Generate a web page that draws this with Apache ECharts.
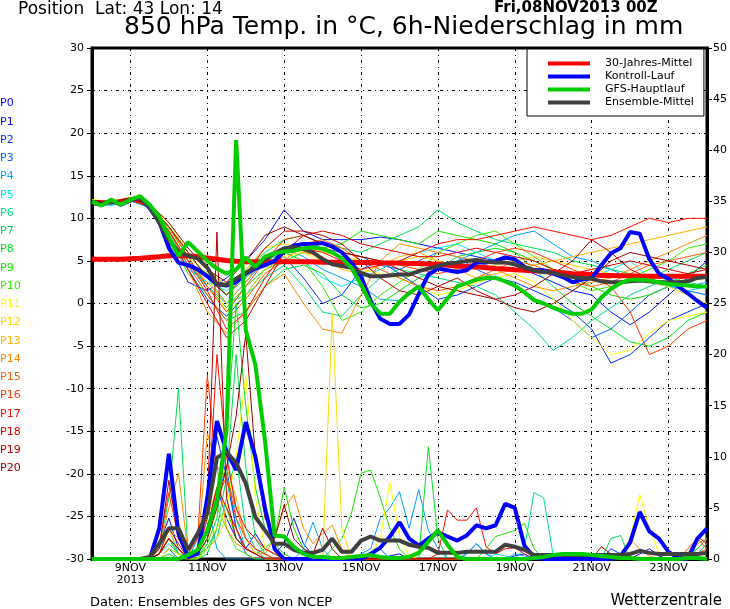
<!DOCTYPE html>
<html>
<head>
<meta charset="utf-8">
<script src="https://cdn.jsdelivr.net/npm/echarts/dist/echarts.min.js"></script>
<style>
  html, body { margin: 0; padding: 0; background: #fff; }
  #chart-container { width: 730px; height: 609px; }
</style>
</head>
<body>
<div id="chart-container"></div>
<script>
// 6-hourly steps from 08NOV2013 00Z to 24NOV2013 00Z (hours)
var steps = [];
for (var h = 0; h <= 384; h += 6) steps.push(h);

var xTickLabels = ['9NOV\n2013', '11NOV', '13NOV', '15NOV', '17NOV', '19NOV', '21NOV', '23NOV'];

var memberNames = ['P0', 'P1', 'P2', 'P3', 'P4', 'P5', 'P6', 'P7', 'P8', 'P9', 'P10',
  'P11', 'P12', 'P13', 'P14', 'P15', 'P16', 'P17', 'P18', 'P19', 'P20'];
var memberColors = ['#0000ff', '#0010ff', '#0034ff', '#0064ff', '#00a0ff', '#00e0ff', '#00e080',
  '#00e050', '#00e020', '#18e000', '#38f000', '#ffff00', '#ffd700', '#ffb000', '#ff8c00',
  '#ff6000', '#ff3c00', '#ff1000', '#e00000', '#b80000', '#a00000'];

// thick lines, 6-hourly (°C)
var climTemp = [5.2, 5.2, 5.2, 5.2, 5.25, 5.3, 5.4, 5.5,
  5.6, 5.65, 5.6, 5.5, 5.35, 5.2, 5.05, 4.95,
  4.9, 4.9, 4.9, 4.9, 4.9, 4.9, 4.9, 4.9,
  4.85, 4.85, 4.8, 4.8, 4.8, 4.8, 4.75, 4.75,
  4.75, 4.7, 4.7, 4.65, 4.6, 4.5, 4.4, 4.35,
  4.3, 4.2, 4.1, 4.05, 3.95, 3.9, 3.85, 3.8,
  3.7, 3.6, 3.5, 3.45, 3.4, 3.3, 3.3, 3.25,
  3.25, 3.2, 3.2, 3.2, 3.2, 3.2, 3.2, 3.2, 3.2];
var ctrlTemp = [11.9, 11.6, 12.1, 11.6, 12.1, 12.5, 11.2, 9.6,
  6.5, 4.8, 4.5, 4.0, 3.2, 2.3, 2.1, 2.5,
  3.5, 4.1, 4.5, 5.0, 6.2, 6.8, 7.0, 7.0,
  7.1, 6.7, 6.0, 4.8, 3.2, 0.3, -1.8, -2.4,
  -2.4, -1.3, 1.1, 3.4, 4.1, 3.9, 3.7, 3.9,
  4.8, 4.8, 5.0, 5.4, 5.2, 4.3, 3.9, 3.9,
  3.5, 3.1, 2.5, 2.8, 3.0, 4.5, 5.9, 6.5,
  8.4, 8.2, 5.2, 3.5, 2.9, 2.0, 1.2, 0.3, -0.5];
var gfsTemp = [12.0, 11.5, 12.2, 11.6, 12.2, 12.6, 11.6, 10.2,
  7.8, 5.6, 7.2, 6.1, 5.0, 4.1, 3.5, 4.0,
  5.4, 4.3, 5.5, 5.9, 6.1, 6.2, 6.5, 6.6,
  6.4, 6.0, 5.3, 4.2, 2.2, 0.0, -1.2, -1.2,
  0.2, 1.2, 2.0, 0.5, -0.8, 0.6, 2.0, 2.4,
  2.8, 3.0, 3.0, 2.6, 2.1, 1.3, 0.4, 0.0,
  -0.5, -0.9, -1.2, -1.2, -0.7, 0.7, 1.7, 2.4,
  2.8, 2.8, 2.7, 2.5, 2.3, 2.2, 2.1, 2.0, 2.0];
var meanTemp = [11.8, 11.6, 12.0, 11.7, 12.1, 12.5, 11.3, 9.5,
  7.4, 6.1, 5.6, 5.3, 4.2, 2.3, 2.2, 2.9,
  3.6, 4.3, 5.2, 5.9, 6.5, 6.6, 6.4, 6.0,
  5.2, 4.6, 4.4, 4.2, 3.6, 3.2, 3.2, 3.3,
  3.4, 3.4, 3.8, 4.1, 4.4, 4.7, 4.8, 5.0,
  5.1, 4.9, 4.8, 4.8, 4.6, 4.2, 3.9, 3.7,
  3.6, 3.3, 3.1, 3.0, 2.9, 2.6, 2.5, 2.5,
  2.6, 2.7, 2.6, 2.5, 2.5, 2.5, 2.6, 3.0, 3.1];

// thick lines, 6h precipitation (mm)
var ctrlPrcp = [0, 0, 0, 0, 0, 0, 0, 3,
  10.3, 2.5, 0.2, 0.5, 6, 13.5, 10.5, 8.7,
  13.4, 10, 5, 1, 0, 0, 0, 0,
  0, 0, 0, 0, 0, 0.5, 1.1, 2.2,
  3.6, 2.0, 1.3, 2.0, 2.6, 2.2, 1.8, 2.3,
  3.3, 3.0, 3.3, 5.4, 5.0, 1.3, 0.2, 0,
  0, 0, 0, 0, 0, 0, 0, 0.3,
  1.6, 4.6, 2.7, 2.0, 0.7, 0.1, 0, 2.0, 3.0];
var gfsPrcp = [0, 0, 0, 0, 0, 0, 0, 0,
  0, 0, 0.4, 0.9, 2.8, 5.8, 12.6, 41,
  22.4, 19, 11.6, 2.3, 2.2, 1.2, 0.5, 0.2,
  0.2, 0.1, 0.1, 0.2, 0.3, 0.4, 0.2, 0.1,
  0.1, 0.2, 0.6, 1.7, 2.8, 1.4, 0.2, 0,
  0, 0, 0, 0, 0, 0, 0.1, 0.2,
  0.4, 0.5, 0.5, 0.5, 0.4, 0.3, 0.2, 0.1,
  0.1, 0, 0, 0, 0, 0, 0.1, 0.1, 0];
var meanPrcp = [0, 0, 0, 0, 0, 0, 0.2, 1.5,
  3, 3, 0.9, 2.5, 4.5, 9.9, 10.5, 9.4,
  7.4, 4.1, 2.8, 1.5, 1.5, 0.9, 0.6, 0.6,
  0.9, 2.0, 0.7, 0.7, 1.8, 2.2, 1.8, 1.8,
  1.8, 1.4, 1.2, 1.1, 0.6, 0.6, 0.6, 0.7,
  0.7, 0.7, 0.7, 1.4, 1.2, 0.9, 0.4, 0.4,
  0.4, 0.4, 0.4, 0.4, 0.4, 0.4, 0.4, 0.4,
  0.5, 0.8, 0.6, 0.5, 0.5, 0.5, 0.5, 0.5, 0.6];

// members P1..P20, 12-hourly temperature (°C)
var memberTemp = [
  [11.9, 11.8, 12.3, 11.3, 7.0, 2.5, 1.5, 3.0, 5.0, 7.5, 11.0, 8.5, 7.5, 7.5, 7.5, 7.8, 7.5, 7.0, 6.5, 6.0, 5.5, 5.0, 4.5, 3.5, 2.5, 1.5, 1.0, -1.0, -2.5, -1.0, 1.0, 3.0, 5.0],
  [12.0, 11.7, 12.2, 11.4, 8.0, 4.0, 0.5, -1.5, 1.0, 4.0, 5.5, 3.0, 0.0, 1.0, 4.0, 5.0, 3.5, 2.0, 0.5, 1.0, 2.0, 3.0, 2.5, 1.5, 0.5, -1.0, -3.0, -7.0, -6.0, -4.0, -2.0, -1.0, 0.0],
  [12.1, 11.9, 12.4, 11.6, 8.5, 5.0, 3.0, 1.0, 3.0, 5.0, 6.0, 7.0, 6.5, 6.0, 5.5, 4.5, 4.0, 5.0, 6.0, 5.5, 4.0, 3.0, 2.0, 0.5, -0.5, -2.0, -4.0, -3.0, -1.0, 1.0, 2.0, 1.5, 1.0],
  [11.8, 11.6, 12.1, 11.2, 8.0, 4.5, 2.0, 0.0, 2.5, 5.0, 6.5, 5.5, 4.0, 3.0, 2.0, 0.5, 0.3, 2.0, 4.0, 5.0, 6.0, 7.0, 8.0, 8.5, 7.0, 5.5, 5.0, 4.0, 3.0, 2.5, 2.0, 2.0, 2.5],
  [11.7, 11.5, 12.0, 11.4, 8.5, 4.0, 2.5, 1.5, 3.5, 5.5, 6.0, 5.0, 3.0, 2.0, 3.0, 4.0, 5.0, 6.0, 6.5, 7.0, 6.0, 5.0, 4.5, 4.0, 3.5, 3.0, 3.0, 4.0, 5.0, 3.0, 2.0, 1.5, 2.0],
  [12.0, 11.8, 12.3, 11.5, 9.0, 6.0, 3.0, 0.0, 1.0, 3.0, 4.5, 2.0, -1.0, -1.5, 1.0, 3.0, 4.0, 3.5, 3.0, 2.5, 2.0, 1.0, -1.0, -3.0, -5.5, -4.0, -2.0, -0.5, 1.0, 2.0, 3.0, 2.5, 2.0],
  [12.0, 11.9, 12.2, 11.6, 9.0, 6.0, 4.0, 2.0, 4.0, 6.0, 7.5, 8.0, 7.0, 6.5, 6.0, 7.0, 8.0, 9.0, 11.0, 9.5, 8.5, 7.5, 7.0, 6.5, 6.0, 5.0, 4.5, 4.0, 3.5, 3.0, 4.0, 5.0, 6.0],
  [12.1, 12.0, 12.4, 11.5, 8.0, 3.5, 1.0, -2.0, -1.0, 2.0, 4.0, 4.5, 3.5, 1.0, -0.5, 0.0, 1.5, 3.0, 4.0, 5.5, 6.0, 6.5, 6.0, 4.0, 2.0, 0.0, -1.5, -3.0, -4.5, -5.0, -4.0, -2.0, -1.0],
  [11.9, 11.7, 12.2, 11.3, 8.5, 5.0, 2.0, -0.5, 2.0, 4.0, 5.0, 6.0, 6.5, 7.0, 8.5, 8.0, 7.5, 7.0, 8.5, 8.0, 7.5, 7.0, 6.0, 5.0, 4.0, 3.0, 2.0, 1.0, 0.5, 1.0, 2.0, 3.5, 4.5],
  [12.0, 11.8, 12.3, 11.5, 8.8, 5.5, 3.5, 1.0, 3.0, 5.0, 6.0, 5.0, 2.0, -2.0, -1.0, 1.0, 2.5, 4.0, 6.0, 7.0, 8.0, 8.5, 7.0, 5.5, 4.0, 2.5, 1.5, 2.0, 3.0, 4.0, 5.0, 6.5, 7.0],
  [12.2, 12.0, 12.5, 11.8, 9.0, 5.5, 3.5, -1.0, 1.0, 4.0, 5.5, 6.0, 5.0, 4.5, 4.0, 3.5, 3.0, 2.0, 1.0, 1.5, 2.5, 3.0, 3.5, 2.5, 0.5, -2.0, -4.0, -6.0, -5.5, -3.5, -2.0, -1.5, -1.0],
  [12.1, 11.9, 12.4, 11.6, 9.5, 6.0, 4.0, 2.0, 4.0, 6.5, 7.0, 6.5, 6.0, 5.5, 5.0, 4.5, 5.0, 5.5, 5.0, 4.5, 4.0, 4.5, 5.0, 5.5, 5.0, 4.5, 4.0, 3.5, 3.0, 2.5, 2.0, 1.0, 0.0],
  [12.0, 11.8, 12.3, 11.4, 8.5, 5.0, 2.5, 0.0, 2.5, 5.5, 6.5, 6.0, 5.5, 4.0, 3.5, 4.5, 5.5, 6.0, 5.0, 4.0, 3.0, 3.5, 4.0, 4.5, 5.0, 5.5, 6.0, 6.5, 7.0, 7.5, 8.0, 8.5, 9.0],
  [11.9, 11.7, 12.2, 11.5, 8.0, 4.0, -1.0, -3.5, -1.0, 2.0, 3.5, 0.0, -3.0, -3.5, 1.0, 5.0, 7.0, 6.5, 6.0, 5.5, 5.0, 4.0, 3.0, 2.0, 1.5, 2.0, 2.5, 3.0, 4.0, 5.0, 6.0, 7.0, 8.0],
  [12.0, 11.9, 12.3, 11.6, 8.5, 4.5, 1.0, -2.0, 0.5, 3.5, 5.0, 7.0, 7.5, 6.5, 5.0, 4.0, 3.0, 2.0, 1.5, 2.0, 3.0, 4.0, 5.0, 4.5, 3.5, 2.5, 2.0, 2.5, 3.5, 4.5, 5.0, 5.5, 6.0],
  [12.1, 12.0, 12.4, 11.7, 9.0, 5.5, 2.0, -1.0, 2.0, 5.0, 7.5, 8.0, 7.0, 6.0, 5.5, 5.0, 4.5, 4.0, 3.5, 4.0, 5.0, 6.0, 6.5, 6.0, 5.0, 4.0, 3.0, 2.0, -1.0, -6.0, -5.0, -3.0, -2.0],
  [12.0, 11.8, 12.2, 11.5, 8.5, 5.0, 1.5, -3.0, -1.0, 3.0, 6.0, 6.5, 6.0, 5.0, 4.0, 4.5, 5.0, 6.0, 7.0, 7.5, 7.5, 8.0, 8.5, 9.0, 8.5, 8.0, 7.5, 8.0, 9.0, 10.0, 9.5, 10.0, 10.0],
  [11.9, 11.7, 12.1, 11.4, 8.0, 4.0, 0.0, -4.0, -2.0, 2.0, 6.0, 8.0, 8.5, 8.0, 7.0, 6.5, 6.0, 5.5, 5.5, 6.0, 6.5, 6.0, 5.5, 5.0, 4.0, 3.5, 4.0, 4.5, 5.0, 4.5, 4.0, 3.5, 3.0],
  [12.0, 11.9, 12.3, 11.6, 9.0, 6.0, 3.0, 1.0, 3.5, 6.5, 8.5, 8.5, 8.0, 7.0, 5.0, 3.0, 1.5, 1.0, 2.0, 3.0, 1.5, 0.5, 1.0, 2.0, 3.5, 5.0, 7.5, 6.0, 4.0, 3.0, 3.0, 3.5, 4.0],
  [12.1, 12.0, 12.4, 11.7, 9.5, 6.5, 4.0, 2.5, 5.0, 8.0, 9.0, 8.0, 7.0, 6.0, 5.5, 5.0, 4.0, 3.0, 2.0, 1.5, 1.0, 0.5, -0.5, -1.0, 0.0, 1.5, 3.0, 5.0, 6.0, 5.5, 5.0, 4.5, 4.0]
];

// members P1..P20, 6h precipitation (mm)
var memberPrcp = [
  [0,0,0,0,0,0,0,1.5, 4,1,0,0.5,3,7,4,2, 1,2.5,1,0.5,1.5,4,1.5,0.3, 0,0,0,0,0,0,0,0.3, 0.5,0,0,0,0,0,0,0, 0,0,0,0,0.3,0.5,0,0, 0,0,0,0,0,0,0,0, 0,0.5,1,0.3,0,0,0,0, 0],
  [0,0,0,0,0,0,0,0.5, 2,0.5,0,1,5,12,8,3, 1,0.5,0,0,0,0,0,0, 0,0,0,0,0,0,0,0, 0,0,0,0,0,0,0,0, 0,0,0,0,0,0,0,0, 0,0,0,0,0,0,1,0.5, 0,0,0,0,0,0,0,0, 0],
  [0,0,0,0,0,0,0,0, 1,0,0,0.5,2,6,9,3, 0.5,0,0,0,0,0,0,0, 0,0,0,0,0,0.5,1,0, 0,0,0,0,0,0,0,0.5, 1.5,0.5,0,0,0,0,0,0, 0,0,0,0,0,0,0,0, 0,0,0,0,0,0,0,0.5, 1.5],
  [0,0,0,0,0,0,0,1, 3,0.5,0,2,5.5,1,0,0, 0,0,0,0,0,0,1,3.6, 1,0,0,0,0.5,1,4,5, 6.6,3,6.8,2.8,1,0,0,0.5, 1.5,0.5,0,0,0.5,0.3,0,0, 0,0,0,0,0,0,0,0, 0,0,0,0,0,0,0.5,1, 2],
  [0,0,0,0,0,0,0,0.5, 2,0.5,0.3,1,3,5,11,4, 1,0.5,0,0,0,0,0,0, 0,0,0,0,0,0,0,0, 0,0,0,0,0,0,0,0, 0,0,0.5,0.3,0,0,0,0, 0,0,0,0,0,0,0,0, 0,0,0,0,0,0,0,0, 0],
  [0,0,0,0,0,0,0,0.5, 1.5,0.5,0,0,1,2,6,10, 3,1,0,0,0,0,0,0, 0,0,0,0,0,0,0,0, 0,0,0,0,0,0,0,0, 0,0,0,0,0,1,6.5,6, 0.3,0,0,0,0,0,0,0, 0,0,0,0,0,0,0,0, 0],
  [0,0,0,0,0,0,0,1, 6,16.7,0.5,0,0.5,3,8,20, 9,2,0.5,0,0,0,0,0, 0,0,0,0,0,0,0,0, 0,0,0,0,0,0,0,0, 0,0,0,0,0,0,0,0, 0,0,0,0,0,0,2,2.3, 0,0,0,0,0,0,0,0.5, 1.5],
  [0,0,0,0,0,0,0,0, 0.5,0,0,0,1.5,4,12,25, 15,7,3,1.5,0.5,0,0,0, 0,0,0,0,0,0,0,0, 0,0,0,11,2,0,0,0, 0,0,0,0,0,0,0,0, 0,0,0,0,0,0,0,0, 0,0,0,0,0,0,0,0, 0],
  [0,0,0,0,0,0,0,0, 1,0.5,0,0.5,1,3,5,2, 1,0.5,1,2,7,3,1,0.5, 0,1,2,4.5,8.4,8.7,6,3, 1,0,0,0,0,0,0,0, 0,1,2.2,2.5,2.8,3.5,1,0, 0,0,0,0,0,0,0,0, 0,0,0,0,0,0,0,0, 0],
  [0,0,0,0,0,0,0,0.5, 2,0.5,0,0,2,5,3,1, 0.5,0,0,0,0,0,0,0, 0,0,0,0,0,0,0,0, 0,0,0,0,0,0,0,0, 0,0,0,0,0,0,0,0, 0,0,0,0,0,0,0,0, 0,0,0,0,0,0,0,1, 2],
  [0,0,0,0,0,0,0,0.5, 2.8,1,0,0.5,2,3,5,10, 18,6,1,0.5,0,0,0,0, 0,0,0,0,0,0.5,2,7.5, 2.2,0.3,0,0,0,0,0,0, 0,0,0,0,0,0,0,0, 0,0,0,0,0,0,0,0.5, 2,6.3,3,0.5,0,0,0,0, 0],
  [0,0,0,0,0,0,0,0, 1,0.5,0,0,1,2,4,3, 1,0.5,0,0,0,0,0,0, 0,24,3,0,0,0,0,0, 0,0,0,0,0,0,0,0, 0,0,0,0,0,0,0,0, 0,0,0,0,0,0,0,0, 0,0,0,0,0,0,0,0, 0],
  [0,0,0,0,0,0,0,0.5, 3,2,0.3,1,4,7,9,6, 2,0.5,0,0,0,0,0,0, 0,0,0,0,0,0,0,0, 0,0,0,0,0,0,0,0, 0,0,0,0,0,0,0,0, 0,0,0,0,0,0,0,0, 0,0,0,0,0,0,0,0, 0],
  [0,0,0,0,0,0,0,1, 5,8.4,0.5,1,12.3,9,3,1.5, 1,0.5,0.5,2,5,6.3,3,1.5, 2.5,3.3,1,0,0,0,0,0, 0,0,0,0,0,0,0,0, 0,0,0,0,0,0,0,0, 0,0,0,0,0,0,0,0, 1.9,1,0.3,0,0,0,0.5,1.5, 2],
  [0,0,0,0,0,0,0,0.5, 2,1,0,0.5,3,6,8,5, 2,1,0.5,0,0,0,0,0, 0,0,0,0,0,0,0,0, 0,0,0,0,0,0,0,0, 0,0,0,0,0,0,0,0, 0,0,0,0,0,0,0,0, 0,0,0,0,0,0,0,0.5, 1],
  [0,0,0,0,0,0,0,1.5, 6.5,2,0.5,2,18,9,8,4, 2,1,0.5,0,0,0,0,0, 0,0,0,0,0,0,0,0, 0,0,0,0,0,0,0,0, 0,0,0,0,0,0,0,0, 0,0,0,0,0,0,0,0, 0,0,0,0,0,0,1,2, 1],
  [0,0,0,0,0,0,0,0.5, 2,1,0,0.5,4,20,10,5, 3,2,1,0.5,0,0,0,0, 0,0,0,0,0,0,0,0, 0,0,0,0,0.5,4.8,3.8,3.8, 5,1.2,0.5,1,1.1,0.5,0,0, 0,0,0,0,0,0,0,0, 0,0,0,0,0,0,0.5,2.2, 1.5],
  [0,0,0,0,0,0,0,0.5, 3,1.5,0,1,3,7,5,3, 1,0.5,0,0,0,0,0,0, 0,0,0,0,0,0,0,0, 0,0,0,0,0,0,0,0, 0,0,0,0,0,0,0,0, 0,0,0,0,0,0,0,0, 0,0,0,0,0,0,0,0, 0],
  [0,0,0,0,0,0,0,1, 7.7,2,0.5,1,5,32,6,2, 1,0.5,0,0,0,0,0,0, 0,0,0,0,0,0,0,0, 0,0,0,0,0,0,0,0, 0,0,0,0,0,0,0,0, 0,0,0,0,0,1.2,0.5,0, 0,0,0,0,0,0,0,0, 0],
  [0,0,0,0,0,0,0,0.5, 2,1,0,0.5,2,5,9,14, 22,10,4,2,5.3,2,1,0.5, 3,1,0,0,0,0,0,0, 0,0,0,0,0,0,0,0, 0,0,0,0,0,0,0,0, 0,0,0,0,0,0,0,0, 0,0,0,0,0,0,0,0, 0]
];

var FONT = 'DejaVu Sans';
var dom = document.getElementById('chart-container');
var myChart = echarts.init(dom, null, { renderer: 'canvas' });

function isDayTick(index) {
  return index % 8 === 4; // 00Z of 9, 11, 13 ... NOV
}

var series = [];

memberTemp.forEach(function (arr, m) {
  series.push({
    name: memberNames[m + 1] + ' T',
    type: 'line',
    yAxisIndex: 0,
    data: arr.map(function (v, k) { return [k * 2, v]; }),
    symbol: 'none',
    lineStyle: { width: 1, color: memberColors[m + 1] },
    z: 2,
    silent: true
  });
});

memberPrcp.forEach(function (arr, m) {
  series.push({
    name: memberNames[m + 1] + ' RR',
    type: 'line',
    yAxisIndex: 1,
    data: arr,
    symbol: 'none',
    lineStyle: { width: 1, color: memberColors[m + 1] },
    z: 2,
    silent: true
  });
});

function thick(name, data, axis, color, width, z) {
  return {
    name: name,
    type: 'line',
    yAxisIndex: axis,
    data: data,
    symbol: 'none',
    color: color,
    lineStyle: { width: width, color: color },
    z: z
  };
}

series.push(thick('30-Jahres-Mittel', climTemp, 0, '#ff0000', 5, 3));
series.push(thick('Kontroll-Lauf', ctrlTemp, 0, '#0000ff', 4, 4));
series.push(thick('Kontroll-Lauf', ctrlPrcp, 1, '#0000ff', 4, 4));
series.push(thick('Ensemble-Mittel', meanTemp, 0, '#404040', 4, 5));
series.push(thick('Ensemble-Mittel', meanPrcp, 1, '#404040', 4, 5));
series.push(thick('GFS-Hauptlauf', gfsTemp, 0, '#00cc00', 4, 6));
series.push(thick('GFS-Hauptlauf', gfsPrcp, 1, '#00cc00', 4, 6));

var pLabels = memberNames.map(function (n, i) {
  return {
    type: 'text',
    left: 0,
    top: 98 + i * 18.25,
    style: { text: n, fill: memberColors[i], font: '11px ' + FONT }
  };
});

var gridDash = [3, 4, 1, 4];

var option = {
  backgroundColor: '#ffffff',
  animation: false,
  textStyle: { fontFamily: FONT },
  grid: {
    left: 92, right: 19, top: 48, bottom: 50,
    show: true, borderColor: '#000', borderWidth: 3, backgroundColor: 'transparent'
  },
  legend: {
    data: [
      { name: '30-Jahres-Mittel', icon: 'rect' },
      { name: 'Kontroll-Lauf', icon: 'rect' },
      { name: 'GFS-Hauptlauf', icon: 'rect' },
      { name: 'Ensemble-Mittel', icon: 'rect' }
    ],
    orient: 'vertical',
    left: 527,
    top: 49,
    width: 186,
    padding: [9, 10, 8, 21],
    itemGap: 2,
    itemWidth: 42,
    itemHeight: 4,
    borderColor: '#000',
    borderWidth: 1,
    backgroundColor: '#fff',
    selectedMode: false,
    textStyle: { fontFamily: FONT, fontSize: 11, color: '#000', padding: [0, 0, 0, 10] }
  },
  graphic: [
    { type: 'text', left: 18, top: 1, style: { text: 'Position  Lat: 43 Lon: 14', fill: '#000', font: '17px ' + FONT } },
    { type: 'text', left: 494, top: 1, style: { text: 'Fri,08NOV2013 00Z', fill: '#000', font: 'bold 15px ' + FONT } },
    { type: 'text', left: 124, top: 15, style: { text: '850 hPa Temp. in °C, 6h-Niederschlag in mm', fill: '#000', font: '25px ' + FONT } },
    { type: 'text', left: 90, top: 596, style: { text: 'Daten: Ensembles des GFS von NCEP', fill: '#000', font: '13px ' + FONT } },
    { type: 'text', right: 8, top: 594, style: { text: 'Wetterzentrale', fill: '#000', font: '15px ' + FONT } }
  ].concat(pLabels),
  xAxis: {
    type: 'category',
    data: steps,
    boundaryGap: false,
    axisLine: { onZero: false, lineStyle: { color: '#000', width: 3 } },
    axisTick: { interval: function (i) { return isDayTick(i); }, length: 4, lineStyle: { color: '#000' } },
    axisLabel: {
      interval: function (i) { return isDayTick(i); },
      formatter: function (v, i) { return isDayTick(i) ? xTickLabels[(i - 4) / 8] : ''; },
      color: '#000', fontSize: 11, fontFamily: FONT, lineHeight: 12, margin: 3
    },
    splitLine: {
      show: true,
      interval: function (i) { return isDayTick(i); },
      lineStyle: { color: '#000', width: 1, type: gridDash }
    }
  },
  yAxis: [
    {
      type: 'value', min: -30, max: 30, interval: 5, position: 'left',
      axisLine: { show: true, lineStyle: { color: '#000', width: 3 } },
      axisTick: { show: true, length: 5, lineStyle: { color: '#000' } },
      axisLabel: { color: '#000', fontSize: 11, fontFamily: FONT, margin: 8 },
      splitLine: { show: true, lineStyle: { color: '#000', width: 1, type: gridDash } }
    },
    {
      type: 'value', min: 0, max: 50, interval: 5, position: 'right',
      axisLine: { show: true, lineStyle: { color: '#000', width: 3 } },
      axisTick: { show: true, length: 5, lineStyle: { color: '#000' } },
      axisLabel: { color: '#000', fontSize: 11, fontFamily: FONT, margin: 6 },
      splitLine: { show: false }
    }
  ],
  series: series
};

myChart.setOption(option);
window.addEventListener('resize', myChart.resize);
</script>
</body>
</html>
